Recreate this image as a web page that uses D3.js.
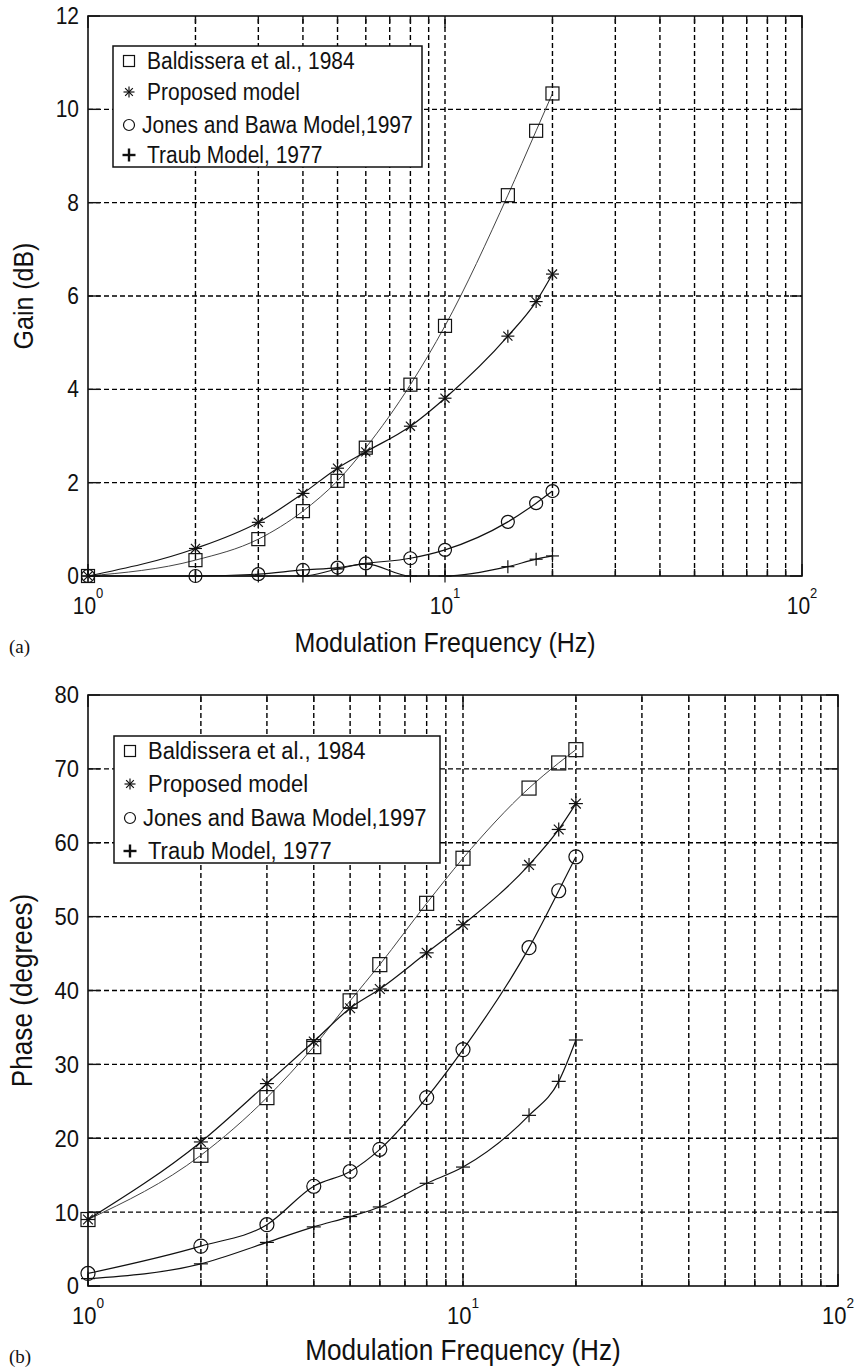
<!DOCTYPE html>
<html>
<head>
<meta charset="utf-8">
<script src="https://cdn.jsdelivr.net/npm/d3@7"></script>
<style>
body{margin:0;background:#fff}
svg{display:block;font-family:"Liberation Sans",Arial,sans-serif}
</style>
</head>
<body>
<svg id="chart" width="856" height="1368"></svg>
<script>
// modulation frequencies (Hz)
const freqs = [1, 2, 3, 4, 5, 6, 8, 10, 15, 18, 20];

// (a) gain, dB
const gainBaldissera = [0, 0.34, 0.79, 1.39, 2.04, 2.75, 4.1, 5.36, 8.16, 9.54, 10.34];
const gainProposed = [0, 0.59, 1.15, 1.77, 2.31, 2.66, 3.21, 3.81, 5.14, 5.88, 6.47];
const gainJones = [0, 0, 0.04, 0.13, 0.18, 0.27, 0.38, 0.56, 1.16, 1.56, 1.82];
const gainTraub = [0, 0, 0, 0, 0.15, 0.26, 0, 0, 0.2, 0.36, 0.43];

// (b) phase, degrees
const phaseBaldissera = [9.0, 17.7, 25.5, 32.4, 38.6, 43.5, 51.8, 57.9, 67.4, 70.8, 72.6];
const phaseProposed = [9.0, 19.5, 27.4, 33.1, 37.6, 40.2, 45.1, 48.9, 57.0, 61.8, 65.3];
const phaseJones = [1.7, 5.4, 8.3, 13.5, 15.5, 18.5, 25.5, 32.0, 45.8, 53.5, 58.1];
const phaseTraub = [1.0, 3.0, 5.9, 8.0, 9.4, 10.7, 13.9, 16.1, 23.1, 27.7, 33.3];

const legendNames = ["Baldissera et al., 1984", "Proposed model", "Jones and Bawa Model,1997", "Traub Model, 1977"];
const markerKinds = ["square", "star", "circle", "plus"];
const gainTicks = [0, 2, 4, 6, 8, 10, 12];
const phaseTicks = [0, 10, 20, 30, 40, 50, 60, 70, 80];
const decadeExps = [0, 1, 2];

const svg = d3.select("#chart");
const STRETCH = 1.12;

function stext(g, x, y, str, size, anchor, extra){
  const t = g.append("text")
    .attr("transform", `translate(${x},${y})${extra||""} scale(1,${STRETCH})`)
    .attr("font-size", size).attr("text-anchor", anchor||"start").attr("fill", "#111")
    .text(str);
  return t;
}

function marker(g, kind, x, y, s, sw){
  const h = s/2;
  const m = g.append("g").attr("transform", `translate(${x},${y})`)
    .attr("fill", "none").attr("stroke", "#111").attr("stroke-width", sw||1.2);
  if(kind==="square") m.append("rect").attr("x",-h).attr("y",-h).attr("width",s).attr("height",s);
  if(kind==="circle") m.append("circle").attr("r",h);
  if(kind==="plus"||kind==="star"){
    m.append("line").attr("x1",-h).attr("x2",h);
    m.append("line").attr("y1",-h).attr("y2",h);
  }
  if(kind==="star"){
    const d = h*0.7;
    m.append("line").attr("x1",-d).attr("y1",-d).attr("x2",d).attr("y2",d);
    m.append("line").attr("x1",-d).attr("y1",d).attr("x2",d).attr("y2",-d);
  }
}

function panel(cfg){
  const g = svg.append("g");
  const x = d3.scaleLog().domain([1, 100]).range([cfg.left, cfg.right]);
  const y = d3.scaleLinear().domain([0, cfg.ticks[cfg.ticks.length-1]]).range([cfg.bottom, cfg.top]);
  const grid = g.append("g").attr("stroke", "#000").attr("stroke-width", 1.4).attr("stroke-dasharray", "5,3");
  x.ticks().filter(v => v > 1 && v < 100).forEach(v => {
    grid.append("line").attr("x1", x(v)).attr("x2", x(v)).attr("y1", cfg.bottom).attr("y2", cfg.top);
  });
  cfg.ticks.slice(1, -1).forEach(v => {
    grid.append("line").attr("y1", y(v)).attr("y2", y(v)).attr("x1", cfg.left).attr("x2", cfg.right);
  });

  const line = d3.line().x((d,i) => x(freqs[i])).y(d => y(d)).curve(d3.curveMonotoneX);
  cfg.series.forEach((vals, k) => {
    g.append("path").datum(vals).attr("fill", "none")
      .attr("stroke", k===0 ? "#444" : "#111").attr("stroke-width", k===0 ? 1 : 1.2)
      .attr("d", line);
  });
  cfg.series.forEach((vals, k) => {
    vals.forEach((v, i) => marker(g, markerKinds[k], x(freqs[i]), y(v), cfg.ms));
  });

  // frame and ticks
  g.append("rect").attr("x", cfg.left).attr("y", cfg.top)
    .attr("width", cfg.right-cfg.left).attr("height", cfg.bottom-cfg.top)
    .attr("fill", "none").attr("stroke", "#111").attr("stroke-width", 1.6);
  const tk = g.append("g").attr("stroke", "#111").attr("stroke-width", 1.4);
  cfg.ticks.forEach(v => {
    tk.append("line").attr("x1", cfg.left).attr("x2", cfg.left+12).attr("y1", y(v)).attr("y2", y(v));
    tk.append("line").attr("x1", cfg.right).attr("x2", cfg.right-12).attr("y1", y(v)).attr("y2", y(v));
  });
  x.ticks().forEach(v => {
    const len = [1, 10, 100].includes(v) ? 12 : 7;
    tk.append("line").attr("x1", x(v)).attr("x2", x(v)).attr("y1", cfg.bottom).attr("y2", cfg.bottom-len);
    tk.append("line").attr("x1", x(v)).attr("x2", x(v)).attr("y1", cfg.top).attr("y2", cfg.top+len);
  });

  // tick labels
  cfg.ticks.forEach(v => {
    stext(g, cfg.left-9, y(v), String(v), cfg.fs, "end").attr("dominant-baseline", "central");
  });
  decadeExps.forEach(e => {
    const t = stext(g, x(Math.pow(10, e)), cfg.bottom+38, "", cfg.fs, "middle");
    t.append("tspan").text("10");
    t.append("tspan").attr("font-size", cfg.fs*0.62).attr("dy", -14).text(e);
  });

  // axis labels
  stext(g, (cfg.left+cfg.right)/2, cfg.xlabelY, "Modulation Frequency (Hz)", cfg.fs*1.19, "middle");
  stext(g, cfg.ylabelX, (cfg.top+cfg.bottom)/2, cfg.ylabel, cfg.fs*1.19, "middle", " rotate(-90)");
  g.append("text").attr("x", 9).attr("y", cfg.tagY).attr("font-family", "'Liberation Serif',serif")
    .attr("font-size", 19).attr("fill", "#111").text(cfg.tag);

  // legend
  const L = cfg.legend;
  const lg = g.append("g");
  lg.append("rect").attr("x", L.x).attr("y", L.y).attr("width", L.w).attr("height", L.h)
    .attr("fill", "#fff").attr("stroke", "#111").attr("stroke-width", 1.5);
  legendNames.forEach((name, k) => {
    const cy = L.rows[k];
    marker(lg, markerKinds[k], L.x+16, cy, k===3 ? 13 : 11, k===3 ? 2.4 : 1.2);
    stext(lg, L.x+(k===2 ? 29 : 34), cy, name, cfg.lfs, "start").attr("dominant-baseline", "central");
  });
}

panel({
  left: 88, right: 802, top: 16, bottom: 576, ticks: gainTicks,
  series: [gainBaldissera, gainProposed, gainJones, gainTraub],
  ms: 13, fs: 21, lfs: 21,
  legend: {x: 113, y: 46, w: 309, h: 121, rows: [61, 92, 125, 155]},
  ylabel: "Gain (dB)", ylabelX: 33, xlabelY: 652, tag: "(a)", tagY: 653
});

panel({
  left: 88, right: 838, top: 695, bottom: 1286, ticks: phaseTicks,
  series: [phaseBaldissera, phaseProposed, phaseJones, phaseTraub],
  ms: 14, fs: 22, lfs: 22,
  legend: {x: 114, y: 736, w: 326, h: 127, rows: [751, 784, 818, 851]},
  ylabel: "Phase (degrees)", ylabelX: 32, xlabelY: 1360, tag: "(b)", tagY: 1363
});
</script>
</body>
</html>
